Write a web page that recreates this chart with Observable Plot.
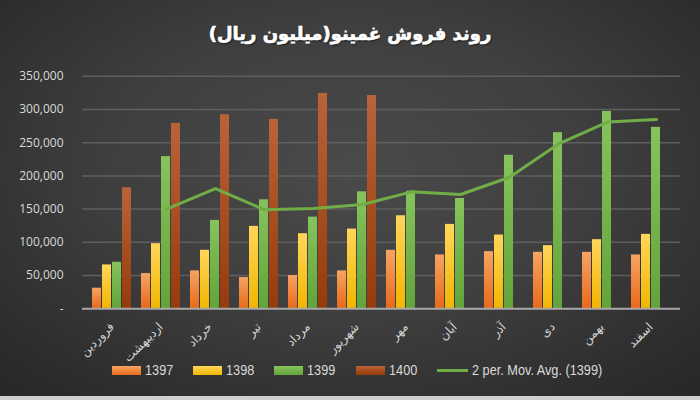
<!DOCTYPE html>
<html>
<head>
<meta charset="utf-8">
<script src="https://cdn.jsdelivr.net/npm/d3@7"></script>
<script src="https://cdn.jsdelivr.net/npm/@observablehq/plot@0.6"></script>
<style>
  html, body { margin: 0; padding: 0; }
  #wrap {
    position: relative; width: 700px; height: 400px; overflow: hidden;
    background: radial-gradient(ellipse 75% 80% at 50% 42%, #4a4a4a 0%, #3f3f3f 45%, #2c2c2c 85%, #262626 100%);
  }
  #title {
    position: absolute; top: 23px; left: 0; width: 700px; text-align: center;
    font-family: "DejaVu Sans", sans-serif; font-weight: bold; font-size: 18px; color: #ffffff;
    -webkit-text-stroke: 0.7px #ffffff;
    text-shadow: 1px 1px 2px rgba(0,0,0,0.7); direction: rtl;
  }
  .layer { position: absolute; top: 0; left: 0; }
  #legend {
    position: absolute; top: 361px; left: 7px; width: 700px; display: flex; justify-content: center;
    align-items: center; gap: 20px; font-family: "Liberation Sans", Arial, sans-serif;
    font-size: 15.5px; color: #d9d9d9;
  }
  .item { display: flex; align-items: center; gap: 4px; }
  .item span { display: inline-block; transform: scaleX(0.82); transform-origin: left center; white-space: nowrap; }
  .sw { width: 29px; height: 9px; }
  .ln { width: 31px; height: 3px; background: #70ad47; }
  #strip { position: absolute; left: 0; top: 396px; width: 700px; height: 4px; background: #cfcfcf; }
</style>
</head>
<body>
<svg width="0" height="0" style="position:absolute">
  <defs>
    <linearGradient id="g1397" x1="0" y1="0" x2="0" y2="1">
      <stop offset="0" stop-color="#f6a463"/><stop offset="1" stop-color="#e8691a"/>
    </linearGradient>
    <linearGradient id="g1398" x1="0" y1="0" x2="0" y2="1">
      <stop offset="0" stop-color="#ffd65a"/><stop offset="1" stop-color="#f2b600"/>
    </linearGradient>
    <linearGradient id="g1399" x1="0" y1="0" x2="0" y2="1">
      <stop offset="0" stop-color="#86c35c"/><stop offset="1" stop-color="#62a43a"/>
    </linearGradient>
    <linearGradient id="g1400" x1="0" y1="0" x2="0" y2="1">
      <stop offset="0" stop-color="#b96339"/><stop offset="1" stop-color="#963b0b"/>
    </linearGradient>
  </defs>
</svg>
<div id="wrap">
  <div id="title">روند فروش غمینو(میلیون ریال)</div>
  <div id="layers"></div>
  <div id="legend">
    <div class="item"><div class="sw" style="background:linear-gradient(#f6a463,#e8691a)"></div><span>1397</span></div>
    <div class="item"><div class="sw" style="background:linear-gradient(#ffd65a,#f2b600)"></div><span>1398</span></div>
    <div class="item"><div class="sw" style="background:linear-gradient(#86c35c,#62a43a)"></div><span>1399</span></div>
    <div class="item"><div class="sw" style="background:linear-gradient(#b96339,#963b0b)"></div><span>1400</span></div>
    <div class="item"><div class="ln"></div><span>2 per. Mov. Avg. (1399)</span></div>
  </div>
  <div id="strip"></div>
</div>
<script>
const months = ["فروردین","اردیبهشت","خرداد","تیر","مرداد","شهریور","مهر","آبان","آذر","دی","بهمن","اسفند"];
const years = ["1397","1398","1399","1400"];
const s1397 = [31000, 53000, 57000, 47000, 50000, 57000, 88000, 81000, 86000, 85000, 85000, 81000];
const s1398 = [66000, 98000, 88000, 124000, 113000, 120000, 140000, 127000, 111000, 95000, 104000, 112000];
const s1399 = [70000, 229000, 133000, 164000, 138000, 176000, 177000, 166000, 231000, 265000, 297000, 273000];
const s1400 = [182000, 279000, 292000, 285000, 324000, 321000, null, null, null, null, null, null];
// 2-period moving average line (months 2..12)
const maMonths = months.slice(1);
const maValues = [150000, 181000, 149000, 151000, 157000, 176000, 172000, 198000, 248000, 281000, 285000];
const yTicks = [0, 50000, 100000, 150000, 200000, 250000, 300000, 350000];

const series = {"1397": s1397, "1398": s1398, "1399": s1399, "1400": s1400};
const rows = [];
months.forEach((m, i) => years.forEach(y => {
  const v = series[y][i];
  if (v != null) rows.push({month: m, year: y, value: v});
}));
const maData = maMonths.map((m, i) => ({month: m, value: maValues[i]}));

const W = 700, H = 400, ML = 82, MR = 20, MT = 75.7, MB = 91.7;
const fmt = d3.format(",");

// Layer 1: grid + y axis
const back = Plot.plot({
  width: W, height: H, marginLeft: ML, marginRight: MR, marginTop: MT, marginBottom: MB,
  style: {background: "transparent", color: "#d9d9d9", fontFamily: "Open Sans, sans-serif"},
  x: {type: "point", domain: months, padding: 0.5, axis: null},
  y: {domain: [0, 350000], axis: null},
  marks: [
    Plot.gridY(yTicks.filter(d => d > 0), {stroke: "#5f5f5f", strokeOpacity: 1, strokeWidth: 1.5}),
    Plot.axisY(yTicks, {tickSize: 0, tickPadding: 19, fontSize: 12, fill: "#d9d9d9",
      tickFormat: d => d === 0 ? "-" : fmt(d), label: null})
  ]
});

// Layer 2: grouped bars with facets
const mid = Plot.plot({
  width: W, height: H, marginLeft: ML, marginRight: MR, marginTop: MT, marginBottom: MB,
  style: {background: "transparent", color: "#d0d0d0"},
  fx: {domain: months, paddingInner: 0.167, paddingOuter: 0.083, label: null},
  x: {domain: years, paddingInner: 0.15, paddingOuter: 0, axis: null},
  y: {domain: [0, 350000], axis: null},
  color: {domain: years, range: years.map(y => `url(#g${y})`)},
  marks: [
    Plot.barY(rows, {fx: "month", x: "year", y: "value", fill: "year"}),
    Plot.axisFx({anchor: "bottom", tickRotate: -45, tickSize: 0, tickPadding: 16, fontSize: 12,
      fontFamily: "DejaVu Sans, sans-serif", fill: "#d4d4d4", label: null})
  ]
});

// offset of the 1399 bar centre from its month centre
let off = 5.4;
try {
  const xs = mid.scale("x");
  const o = xs.apply("1399") + xs.bandwidth / 2 - (xs.range[0] + xs.range[1]) / 2;
  if (isFinite(o)) off = o;
} catch (e) {}

// Layer 3: baseline + moving average line
const front = Plot.plot({
  width: W, height: H, marginLeft: ML, marginRight: MR, marginTop: MT, marginBottom: MB,
  style: {background: "transparent"},
  x: {type: "point", domain: months, padding: 0.5, axis: null},
  y: {domain: [0, 350000], axis: null},
  marks: [
    Plot.ruleY([0], {stroke: "#a8a8a8", strokeWidth: 2}),
    Plot.line(maData, {x: "month", y: "value", stroke: "#70ad47", strokeWidth: 3, dx: off})
  ]
});

const layers = document.getElementById("layers");
[back, mid, front].forEach(el => { el.classList.add("layer"); layers.appendChild(el); });

// compensate layout width for condensed legend text
document.querySelectorAll("#legend .item span").forEach(s => {
  s.style.marginRight = (-0.18 * s.offsetWidth) + "px";
});
</script>
</body>
</html>
